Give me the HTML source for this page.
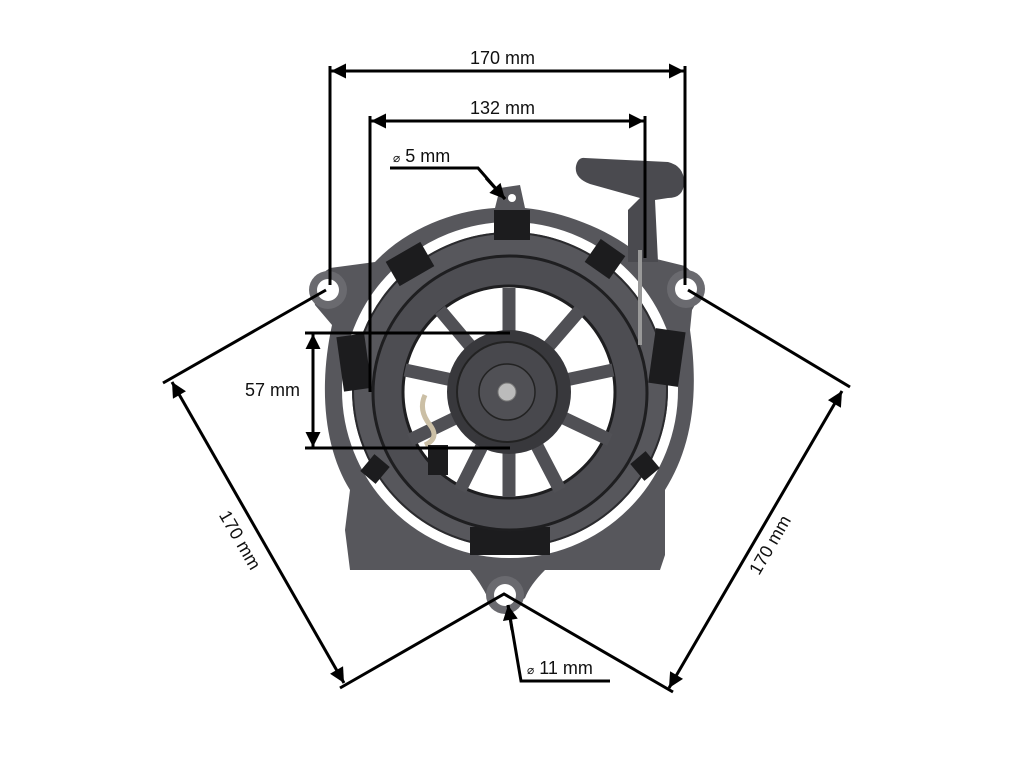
<!DOCTYPE html>
<html><head><meta charset="utf-8"><style>
html,body{margin:0;padding:0;background:#fff;width:1024px;height:768px;overflow:hidden}
svg{display:block}
text{font-family:"Liberation Sans",sans-serif;font-size:18px;fill:#111}
</style></head><body>
<svg width="1024" height="768" viewBox="0 0 1024 768">
<defs>
<marker id="a" viewBox="0 0 10 10" refX="10" refY="5" markerWidth="5.5" markerHeight="5" orient="auto-start-reverse"><path d="M0,0 L10,5 L0,10 z" fill="#000"/></marker>
</defs>
<g>
<path d="M330,268 L375,262 C410,225 460,210 495,208 L500,188 L520,185 L525,208 C565,212 610,230 640,255 L685,266 Q708,285 692,310 L690,330 C700,400 690,450 665,490 L665,555 L660,570 L545,570 Q530,585 525,598 Q505,615 488,598 Q480,582 470,570 L350,570 L345,530 L350,490 C325,450 318,390 332,325 L315,305 Q310,280 330,268 z" fill="#57575c"/>
<circle cx="328" cy="290" r="19" fill="#6a6a6f"/>
<circle cx="686" cy="289" r="19" fill="#6a6a6f"/>
<circle cx="505" cy="595" r="19" fill="#6a6a6f"/>
<circle cx="328" cy="290" r="11" fill="#fff"/>
<circle cx="686" cy="289" r="11" fill="#fff"/>
<circle cx="505" cy="595" r="11" fill="#fff"/>
<circle cx="512" cy="198" r="4" fill="#fff"/>
<circle cx="510" cy="390" r="163" fill="none" stroke="#fff" stroke-width="10"/>
<circle cx="510" cy="390" r="157" fill="none" stroke="#2b2b2e" stroke-width="2"/>
<g fill="#1c1c1e">
<rect x="340" y="335" width="28" height="55" transform="rotate(-8 354 362)"/>
<rect x="652" y="330" width="30" height="55" transform="rotate(8 667 357)"/>
<rect x="470" y="527" width="80" height="28"/>
<rect x="390" y="250" width="40" height="28" transform="rotate(-30 410 264)"/>
<rect x="590" y="245" width="30" height="28" transform="rotate(35 605 259)"/>
<rect x="365" y="458" width="20" height="22" transform="rotate(40 375 469)"/>
<rect x="635" y="455" width="20" height="22" transform="rotate(-40 645 466)"/>
<rect x="494" y="210" width="36" height="30"/>
</g>
<circle cx="510" cy="393" r="137" fill="#4d4d52" stroke="#1e1e20" stroke-width="3"/>
<circle cx="509" cy="392" r="106" fill="#fff" stroke="#1e1e20" stroke-width="3"/>
<g stroke="#505055" stroke-width="13">
<line x1="509" y1="392" x2="509" y2="288"/>
<line x1="509" y1="392" x2="440" y2="310"/>
<line x1="509" y1="392" x2="580" y2="310"/>
<line x1="509" y1="392" x2="405" y2="370"/>
<line x1="509" y1="392" x2="613" y2="370"/>
<line x1="509" y1="392" x2="410" y2="440"/>
<line x1="509" y1="392" x2="610" y2="440"/>
<line x1="509" y1="392" x2="460" y2="490"/>
<line x1="509" y1="392" x2="560" y2="490"/>
<line x1="509" y1="392" x2="509" y2="497"/>
</g>
<circle cx="509" cy="392" r="62" fill="#38383c"/>
<circle cx="507" cy="392" r="50" fill="#48484d" stroke="#222" stroke-width="2"/>
<circle cx="507" cy="392" r="28" fill="#505055" stroke="#222" stroke-width="1.5"/>
<circle cx="507" cy="392" r="9" fill="#bbb" stroke="#777"/>
<path d="M425,395 Q418,410 430,425 Q440,438 425,445" stroke="#cbbfa5" stroke-width="5" fill="none"/>
<rect x="428" y="445" width="20" height="30" fill="#1c1c1e"/>
<!-- handle -->
<path d="M585,158 L668,162 Q684,166 684,182 Q684,198 668,198 L655,200 L658,262 L628,262 L628,210 L640,198 L590,184 Q574,178 576,166 Q578,157 585,158 z" fill="#4a4a4f"/>
<line x1="640" y1="250" x2="640" y2="345" stroke="#999" stroke-width="4"/>
</g>
<g stroke="#000" stroke-width="3" fill="none">
<polyline points="330,66 330,285"/>
<polyline points="685,66 685,285"/>
<line x1="331" y1="71" x2="684" y2="71" marker-start="url(#a)" marker-end="url(#a)"/>
<polyline points="370,116 370,392"/>
<polyline points="645,116 645,258"/>
<line x1="371" y1="121" x2="644" y2="121" marker-start="url(#a)" marker-end="url(#a)"/>
<polyline points="390,168 478,168 505,199"/>
<line x1="486" y1="178" x2="505" y2="199" marker-end="url(#a)"/>
<line x1="305" y1="333" x2="510" y2="333"/>
<line x1="305" y1="448" x2="510" y2="448"/>
<line x1="313" y1="334" x2="313" y2="447" marker-start="url(#a)" marker-end="url(#a)"/>
<line x1="326" y1="290" x2="163" y2="383"/>
<line x1="172" y1="382" x2="344" y2="683" marker-start="url(#a)" marker-end="url(#a)"/>
<polyline points="340,688 504,594 673,692"/>
<line x1="688" y1="290" x2="850" y2="387"/>
<line x1="842" y1="391" x2="669" y2="688" marker-start="url(#a)" marker-end="url(#a)"/>
<polyline points="610,681 521,681 508,605"/>
<line x1="512" y1="630" x2="508" y2="605" marker-end="url(#a)"/>
</g>
<text x="470" y="64">170 mm</text>
<text x="470" y="114">132 mm</text>
<text x="393" y="162"><tspan font-size="12">⌀</tspan> 5 mm</text>
<text x="245" y="396">57 mm</text>
<text x="527" y="674"><tspan font-size="12">⌀</tspan> 11 mm</text>
<text transform="translate(240,540) rotate(60)" text-anchor="middle" dy="6">170 mm</text>
<text transform="translate(770,545) rotate(-60)" text-anchor="middle" dy="6">170 mm</text>
</svg>
</body></html>
